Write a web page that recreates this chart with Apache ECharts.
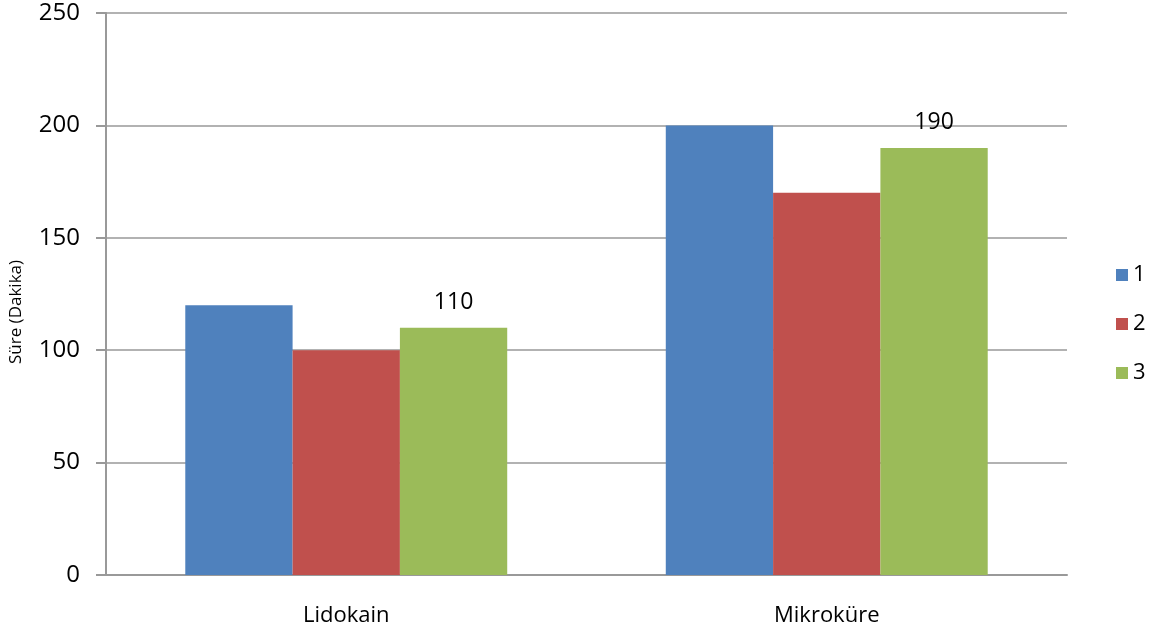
<!DOCTYPE html>
<html><head><meta charset="utf-8">
<script src="https://cdn.jsdelivr.net/npm/echarts@6/dist/echarts.min.js"></script>
<style>html,body{margin:0;padding:0;background:#fff}#c{width:1152px;height:634px}</style>
</head><body><div id="c"></div>
<script>
const categories = ['Lidokain', 'Mikroküre'];
const seriesNames = ['1', '2', '3'];
const values1 = [120, 200];
const values2 = [100, 170];
const values3 = [110, 190];
const colors = ['#4f81bd', '#c0504d', '#9bbb59'];

const chart = echarts.init(document.getElementById('c'));
const font = 'Open Sans';
chart.setOption({
  animation: false,
  textStyle: { fontFamily: font },
  grid: { left: 106, right: 85, top: 13, bottom: 59, outerBoundsMode: 'none', containLabel: false },
  legend: {
    orient: 'vertical', left: 1111, top: 259,
    itemWidth: 12, itemHeight: 12, itemGap: 27,
    icon: 'rect',
    textStyle: { fontSize: 22, lineHeight: 22, color: '#000', fontFamily: font },
    data: seriesNames
  },
  xAxis: {
    type: 'category', data: categories,
    axisLine: { lineStyle: { color: '#999', width: 2 } },
    axisTick: { length: 8, lineStyle: { color: '#999', width: 2 } },
    axisLabel: { fontSize: 22, color: '#000', margin: 30 }
  },
  yAxis: {
    type: 'value', min: 0, max: 250, interval: 50,
    name: 'Süre (Dakika)', nameLocation: 'middle', nameGap: 81, nameRotate: 90,
    nameTextStyle: { fontSize: 17, color: '#000', padding: [0, 36, 0, 0] },
    axisLine: { show: true, lineStyle: { color: '#999', width: 2 } },
    axisTick: { show: true, length: 10, inside: false, lineStyle: { color: '#999', width: 2 } },
    axisLabel: { fontSize: 24, color: '#000', margin: 26 },
    splitLine: { lineStyle: { color: '#999', width: 1.5 } }
  },
  series: [
    { name: seriesNames[0], type: 'bar', data: values1, itemStyle: { color: colors[0] }, barGap: '0%', barCategoryGap: '33%' },
    { name: seriesNames[1], type: 'bar', data: values2, itemStyle: { color: colors[1] }, barGap: '0%', barCategoryGap: '33%' },
    { name: seriesNames[2], type: 'bar', data: values3, itemStyle: { color: colors[2] }, barGap: '0%', barCategoryGap: '33%',
      label: { show: true, position: 'top', distance: 14, fontSize: 23, color: '#000' } }
  ]
});
</script></body></html>
